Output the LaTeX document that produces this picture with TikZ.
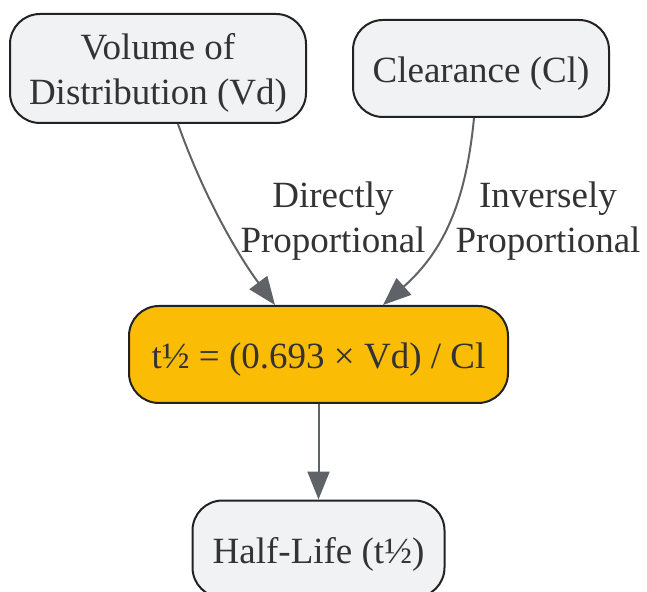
\documentclass[tikz,border=0pt]{standalone}
\usepackage{fontspec}
\setmainfont{Liberation Serif}
\usetikzlibrary{arrows.meta}
\definecolor{boxgray}{HTML}{F1F2F4}
\definecolor{boxorange}{HTML}{FBBC05}
\definecolor{edgegray}{HTML}{5F6368}
\definecolor{txt}{HTML}{333333}
\definecolor{bord}{HTML}{222222}
\tikzset{
  box/.style={draw=bord, line width=1pt, rounded corners=15pt, inner sep=0pt,
    text=txt, align=center, font=\fontsize{18.5}{22.5}\selectfont,
    text height=14pt, text depth=0pt},
  lbl/.style={text=txt, align=center, font=\fontsize{18.5}{22.5}\selectfont, inner sep=0pt},
  conn/.style={draw=edgegray, line width=1pt, -{Triangle[length=14pt,width=11pt]}}
}
\begin{document}
\begin{tikzpicture}[x=0.5pt,y=-0.5pt]
\useasboundingbox (0,0) rectangle (647,592);
\node[box, fill=boxgray, minimum width=148pt, minimum height=54.5pt, text height=36.5pt] (vd) at (158,68.5) {Volume of\\Distribution (Vd)};
\node[box, fill=boxgray, minimum width=128pt, minimum height=48.5pt] (cl) at (481,68.5) {Clearance (Cl)};
\node[box, fill=boxorange, minimum width=189.5pt, minimum height=48.5pt] (f) at (318.5,354.5) {t½ = (0.693 × Vd) / Cl};
\node[box, fill=boxgray, minimum width=126pt, minimum height=48.5pt] (hl) at (318.5,549) {Half-Life (t½)};
\node[lbl] (l1) at (333,221) {Directly\\Proportional};
\node[lbl] (l2) at (548,221) {Inversely\\Proportional};
\draw[conn] ([xshift=10pt]vd.south) .. controls (205,200) and (240,258) .. ([xshift=-21.75pt]f.north);
\draw[conn] ([xshift=-3.5pt]cl.south) .. controls (466,200) and (445,250) .. ([xshift=32.25pt]f.north);
\draw[conn] (f.south) -- (hl.north);
\end{tikzpicture}
\end{document}
